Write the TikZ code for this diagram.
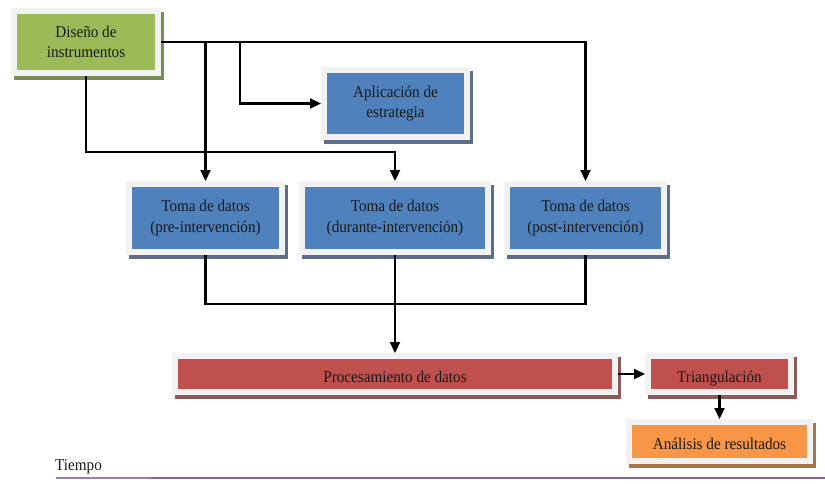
\documentclass[tikz,border=0pt]{standalone}
\usepackage{fontspec}
\setmainfont{Liberation Serif}[FakeStretch=0.92]
\usetikzlibrary{arrows.meta}
\definecolor{frm}{RGB}{242,242,242}
\definecolor{gfill}{RGB}{155,187,89}
\definecolor{gshad}{RGB}{122,140,88}
\definecolor{bfill}{RGB}{79,129,189}
\definecolor{bshad}{RGB}{92,110,138}
\definecolor{rfill}{RGB}{192,80,77}
\definecolor{rshad}{RGB}{140,88,88}
\definecolor{ofill}{RGB}{247,150,70}
\definecolor{oshad}{RGB}{168,116,72}
\definecolor{purp}{RGB}{128,100,162}
\definecolor{purpl}{RGB}{150,128,178}
\tikzset{
  box/.style 2 args={fill=#1, draw=frm, line width=6pt, outer sep=3pt, inner sep=0pt,
    align=center, font=\fontsize{16.5}{20.5}\selectfont, text=black!90,
    preaction={fill=#2, draw=#2, line width=6pt, transform canvas={xshift=2.5pt,yshift=-4pt}}},
  oneline/.style={text height=17pt, text depth=0.5pt},
  conn/.style={line width=2.2pt, -{Triangle[length=11pt,width=10pt]}},
  line/.style={line width=2.2pt}
}
\begin{document}
\begin{tikzpicture}[x=1pt,y=-1pt]
\useasboundingbox (0,0) rectangle (825,483);
\node[box={gfill}{gshad}, minimum width=144pt, minimum height=62pt] (dis) at (86,42) {Diseño de\\instrumentos};
\node[box={bfill}{bshad}, minimum width=143pt, minimum height=67pt] (apl) at (395.5,103.5) {Aplicación de\\estrategia};
\node[box={bfill}{bshad}, minimum width=153pt, minimum height=68pt] (pre) at (205.5,218) {Toma de datos\\(pre-intervención)};
\node[box={bfill}{bshad}, minimum width=186pt, minimum height=68pt] (dur) at (395,218) {Toma de datos\\(durante-intervención)};
\node[box={bfill}{bshad}, minimum width=157pt, minimum height=68pt] (post) at (585.5,218) {Toma de datos\\(post-intervención)};
\node[box={rfill}{rshad}, oneline, minimum width=440pt, minimum height=36pt] (proc) at (395,374) {Procesamiento de datos};
\node[box={rfill}{rshad}, oneline, minimum width=143pt, minimum height=36pt] (tri) at (719.5,374) {Triangulación};
\node[box={ofill}{oshad}, oneline, minimum width=181pt, minimum height=39pt] (ana) at (719.5,441.5) {Análisis de resultados};
\node[anchor=base west, inner sep=0pt, font=\fontsize{16.5}{21}\selectfont, text=black!90] (tiempo) at (55,470.5) {Tiempo};
% connectors
\coordinate (j1) at (240,42);
\coordinate (j2) at (86,152);
\coordinate (j3) at (0,304);
\draw[conn] (dis.east) -- (post.north |- dis.east) -- (post.north);
\draw[conn] (pre.north |- dis.east) -- (pre.north);
\draw[conn] (j1) |- (apl.west);
\draw[conn] (dis.south) -- (j2) -| (dur.north);
\draw[line] (pre.south) |- (post.south |- j3) -- (post.south);
\draw[conn] (dur.south) -- (proc.north);
\draw[conn] (proc.east) -- (tri.west);
\draw[conn] (tri.south) -- (ana.north);
% time line
\coordinate (t0) at (56,478);
\coordinate (t1) at (151,478);
\coordinate (t2) at (825,478);
\draw[purpl, line width=2.4pt] (t0) -- (t1);
\draw[purp, line width=2.4pt] (t1) -- (t2);
\end{tikzpicture}
\end{document}
